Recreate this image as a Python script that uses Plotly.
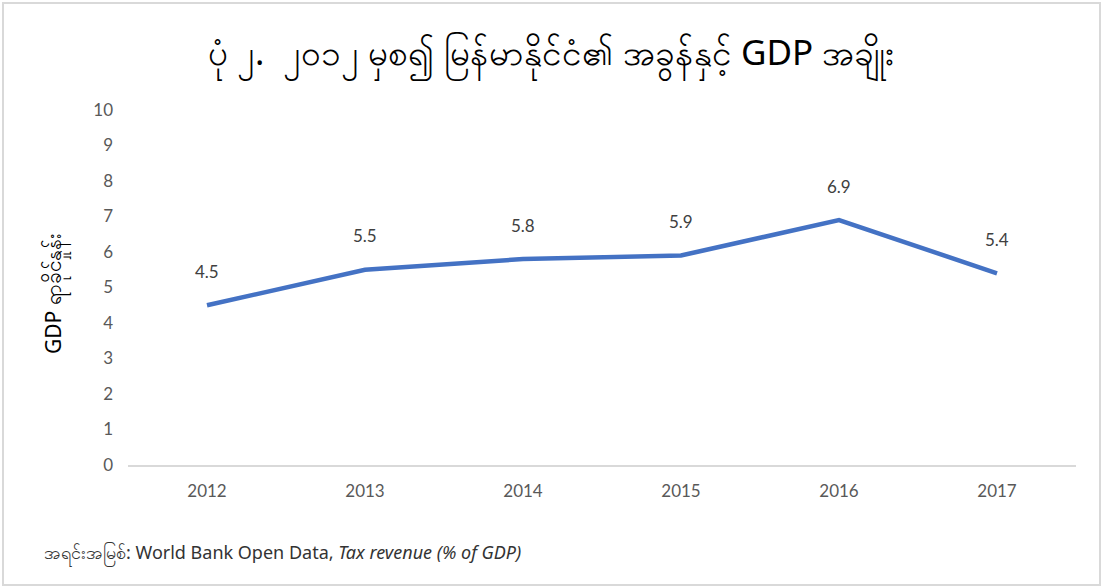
import plotly.graph_objects as go

years = ["2012", "2013", "2014", "2015", "2016", "2017"]
tax_ratio = [4.5, 5.5, 5.8, 5.9, 6.9, 5.4]
y_ticks = list(range(0, 11))

title_text = "ပုံ ၂.  ၂၀၁၂ မှစ၍ မြန်မာနိုင်ငံ၏ အခွန်နှင့် GDP အချိုး"
y_title = "GDP ရာခိုင်နှုန်း"
source_text = "အရင်းအမြစ်: World Bank Open Data, <i>Tax revenue (% of GDP)</i>"

W, H = 1102, 587
L, R, T, B = 128, 26, 110, 122
pw, ph = W - L - R, H - T - B

body_font = "Lato, 'Open Sans', 'Noto Sans', sans-serif"
label_color = "#595959"

fig = go.Figure()
fig.add_trace(go.Scatter(
    x=years, y=tax_ratio, mode="lines",
    line=dict(color="#4472C4", width=4.5),
    hoverinfo="x+y", showlegend=False,
))

# value labels above each point (category index positions)
for i, v in enumerate(tax_ratio):
    fig.add_annotation(x=i, y=v, text=f"{v:.1f}", showarrow=False,
                       yshift=34, font=dict(size=17, color="#404040", family=body_font))


def px_x(px):
    return (px - L) / pw


def px_y(py):
    return (H - B - py) / ph


# outer chart border
fig.add_shape(type="rect", xref="paper", yref="paper",
              x0=px_x(3), x1=px_x(W - 2), y0=px_y(H - 2), y1=px_y(3),
              line=dict(color="#d9d9d9", width=2), fillcolor="rgba(0,0,0,0)")

fig.add_annotation(xref="paper", yref="paper", x=px_x(551), y=px_y(55),
                   text=title_text, showarrow=False, xanchor="center", yanchor="middle",
                   font=dict(size=35, color="#000000", family="'Noto Sans', sans-serif"))

fig.add_annotation(xref="paper", yref="paper", x=px_x(55), y=px_y(294),
                   text=y_title, showarrow=False, textangle=-90,
                   xanchor="center", yanchor="middle",
                   font=dict(size=21, color="#000000", family="'Noto Sans', sans-serif"))

fig.add_annotation(xref="paper", yref="paper", x=px_x(42), y=px_y(553),
                   text=source_text, showarrow=False, xanchor="left", yanchor="middle",
                   font=dict(size=18, color="#333333", family="'Noto Sans', sans-serif"))

fig.update_layout(
    width=W, height=H,
    margin=dict(l=L, r=R, t=T, b=B),
    plot_bgcolor="white", paper_bgcolor="white",
    xaxis=dict(type="category", range=[-0.5, len(years) - 0.5], showgrid=False,
               showline=True, linecolor="#d9d9d9", linewidth=2, ticks="",
               ticklabelstandoff=10,
               tickfont=dict(size=17, color=label_color, family=body_font)),
    yaxis=dict(range=[0, 10], tickvals=y_ticks, showgrid=False, zeroline=False,
               showline=False, ticks="", ticklabelstandoff=14,
               tickfont=dict(size=17, color=label_color, family=body_font)),
)

fig.write_html("out.html")
